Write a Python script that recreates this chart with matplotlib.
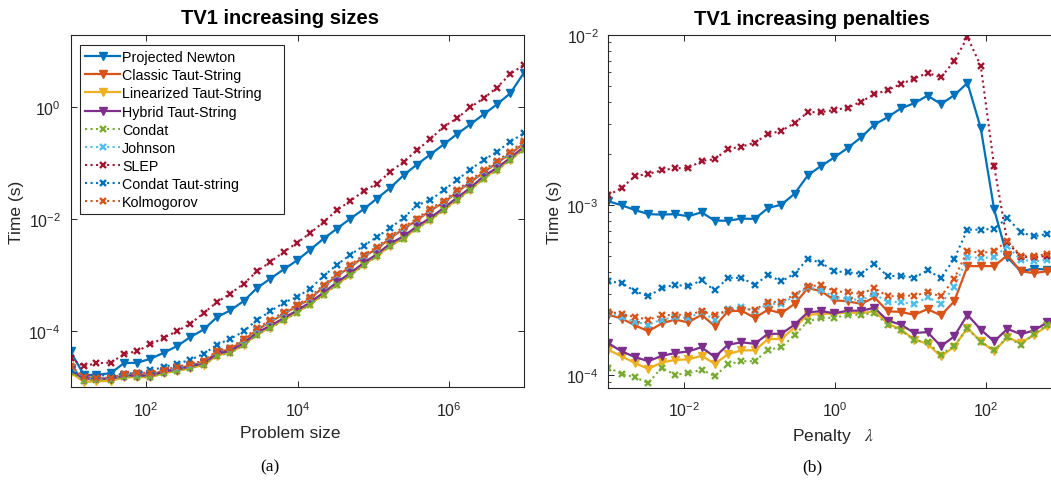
import matplotlib
matplotlib.use("Agg")
import matplotlib.pyplot as plt
from matplotlib.ticker import FixedLocator, LogLocator, NullLocator, LogFormatterSciNotation, NullFormatter

plt.rcParams['font.family'] = ['Liberation Sans', 'DejaVu Sans']
plt.rcParams['mathtext.fontset'] = 'stix'

# problem sizes (10 * 1.5^k) and penalties (1e-3 * 1.5^k)
sizes = [10, 15, 22, 34, 51, 76, 114, 171, 256, 384, 577, 865, 1297, 1946, 2919,
         4379, 6568, 9853, 14779, 22168, 33253, 49879, 74818, 112227, 168341,
         252512, 378768, 568151, 852227, 1278341, 1917511, 2876267, 4314400,
         6471600, 9707400]
penalties = [0.001, 0.0015, 0.00225, 0.00338, 0.00506, 0.00759, 0.0114, 0.0171,
             0.0256, 0.0384, 0.0577, 0.0865, 0.130, 0.195, 0.292, 0.438, 0.657,
             0.985, 1.48, 2.22, 3.33, 4.99, 7.48, 11.2, 16.8, 25.3, 37.9, 56.8,
             85.2, 128, 192, 288, 431, 647, 971]

names = ['Projected Newton', 'Classic Taut-String', 'Linearized Taut-String',
         'Hybrid Taut-String', 'Condat', 'Johnson', 'SLEP', 'Condat Taut-string',
         'Kolmogorov']

# timings (s) vs problem size
size_pn = [4.37e-5, 1.67e-5, 1.67e-5, 1.79e-5, 2.71e-5, 2.74e-5, 3.24e-5, 4.14e-5, 5.46e-5,
           7.91e-5, 1.08e-4, 1.8e-4, 2.37e-4, 3.48e-4, 5.95e-4, 8.73e-4, 1.28e-3, 1.85e-3,
           2.88e-3, 4.54e-3, 6.85e-3, 1.03e-2, 1.52e-2, 2.36e-2, 3.66e-2, 6.15e-2, 9.55e-2,
           0.144, 0.218, 0.333, 0.497, 0.75, 1.13, 1.78, 4.06]
size_classic = [2.2e-5, 1.45e-5, 1.42e-5, 1.4e-5, 1.65e-5, 1.7e-5, 1.7e-5, 1.95e-5, 2.15e-5,
                2.45e-5, 2.8e-5, 4.2e-5, 4.8e-5, 6.9e-5, 1.07e-4, 1.46e-4, 2.05e-4, 2.8e-4,
                3.8e-4, 6.3e-4, 9.9e-4, 1.4e-3, 2.15e-3, 3.0e-3, 4.6e-3, 6.8e-3, 9.6e-3,
                1.44e-2, 1.98e-2, 3.05e-2, 4.6e-2, 6.9e-2, 0.102, 0.148, 0.225]
size_linear = [1.85e-5, 1.25e-5, 1.28e-5, 1.3e-5, 1.5e-5, 1.52e-5, 1.5e-5, 1.78e-5, 1.95e-5,
               2.2e-5, 2.5e-5, 3.7e-5, 4.2e-5, 5.7e-5, 8.8e-5, 1.17e-4, 1.6e-4, 2.2e-4,
               3.05e-4, 4.6e-4, 6.9e-4, 1.02e-3, 1.54e-3, 2.22e-3, 3.4e-3, 4.6e-3, 6.95e-3,
               9.8e-3, 1.48e-2, 2.24e-2, 3.38e-2, 5.45e-2, 7.7e-2, 0.116, 0.18]
size_hybrid = [2.0e-5, 1.42e-5, 1.45e-5, 1.42e-5, 1.6e-5, 1.62e-5, 1.6e-5, 1.9e-5, 2.08e-5,
               2.35e-5, 2.7e-5, 3.95e-5, 4.5e-5, 6.1e-5, 9.5e-5, 1.26e-4, 1.72e-4, 2.36e-4,
               3.3e-4, 4.95e-4, 7.5e-4, 1.1e-3, 1.66e-3, 2.4e-3, 3.7e-3, 5.0e-3, 7.5e-3,
               1.06e-2, 1.6e-2, 2.42e-2, 3.65e-2, 5.9e-2, 8.3e-2, 0.125, 0.195]
size_condat = [1.89e-5, 1.31e-5, 1.36e-5, 1.36e-5, 1.54e-5, 1.54e-5, 1.54e-5, 1.82e-5, 1.97e-5,
               2.23e-5, 2.53e-5, 3.66e-5, 4.14e-5, 5.6e-5, 8.69e-5, 1.15e-4, 1.57e-4, 2.15e-4,
               2.99e-4, 4.52e-4, 6.82e-4, 1.0e-3, 1.51e-3, 2.19e-3, 3.36e-3, 4.54e-3, 6.85e-3,
               9.64e-3, 1.46e-2, 2.2e-2, 3.32e-2, 5.37e-2, 7.56e-2, 0.114, 0.177]
size_johnson = [2.3e-5, 1.5e-5, 1.45e-5, 1.45e-5, 1.7e-5, 1.75e-5, 1.78e-5, 2.0e-5, 2.25e-5,
                2.55e-5, 2.9e-5, 4.4e-5, 4.95e-5, 7.1e-5, 1.1e-4, 1.5e-4, 2.12e-4, 2.9e-4,
                3.95e-4, 6.55e-4, 1.03e-3, 1.45e-3, 2.25e-3, 3.1e-3, 4.8e-3, 7.0e-3, 9.9e-3,
                1.5e-2, 2.02e-2, 3.15e-2, 4.8e-2, 7.2e-2, 0.106, 0.154, 0.238]
size_slep = [3.33e-5, 2.36e-5, 2.71e-5, 2.74e-5, 3.92e-5, 4.44e-5, 5.83e-5, 7.69e-5, 1.01e-4,
             1.37e-4, 2.12e-4, 3.34e-4, 4.71e-4, 7.11e-4, 1.18e-3, 1.74e-3, 2.62e-3, 3.8e-3,
             5.73e-3, 9.02e-3, 1.46e-2, 2.14e-2, 3.18e-2, 4.37e-2, 7.08e-2, 0.107, 0.172,
             0.271, 0.452, 0.636, 1.0, 1.45, 2.25, 3.94, 5.71]
size_condat_ts = [2.08e-5, 1.6e-5, 1.62e-5, 1.65e-5, 1.74e-5, 1.82e-5, 2.0e-5, 2.3e-5, 2.63e-5,
                  3.1e-5, 3.97e-5, 5.75e-5, 7.37e-5, 9.96e-5, 1.61e-4, 2.27e-4, 3.25e-4, 4.11e-4,
                  5.78e-4, 9.75e-4, 1.55e-3, 2.34e-3, 3.36e-3, 4.86e-3, 7.05e-3, 1.06e-2, 1.79e-2,
                  2.2e-2, 3.32e-2, 5.0e-2, 7.78e-2, 0.114, 0.161, 0.243, 0.343]
size_kolmo = [2.43e-5, 1.54e-5, 1.48e-5, 1.48e-5, 1.74e-5, 1.82e-5, 1.82e-5, 2.06e-5, 2.33e-5,
              2.63e-5, 2.98e-5, 4.5e-5, 5.09e-5, 7.37e-5, 1.15e-4, 1.57e-4, 2.21e-4, 2.99e-4,
              4.11e-4, 6.82e-4, 1.07e-3, 1.51e-3, 2.34e-3, 3.22e-3, 5.03e-3, 7.35e-3, 1.03e-2,
              1.56e-2, 2.11e-2, 3.32e-2, 5.0e-2, 7.56e-2, 0.111, 0.161, 0.25]

# timings (s) vs penalty
pen_pn = [1.047e-3, 9.92e-4, 9.3e-4, 8.8e-4, 8.74e-4, 8.8e-4, 8.55e-4, 9.02e-4, 8.05e-4,
          8.05e-4, 8.28e-4, 8.25e-4, 9.56e-4, 1.0e-3, 1.16e-3, 1.49e-3, 1.69e-3, 1.9e-3,
          2.16e-3, 2.49e-3, 2.96e-3, 3.27e-3, 3.69e-3, 3.95e-3, 4.38e-3, 3.91e-3, 4.4e-3,
          5.2e-3, 2.82e-3, 9.4e-4, 4.9e-4, 4.06e-4, 4.2e-4, 4.15e-4, 4.15e-4]
pen_classic = [2.25e-4, 2.14e-4, 1.95e-4, 1.8e-4, 2.0e-4, 2.11e-4, 2.03e-4, 2.25e-4, 1.93e-4,
               2.36e-4, 2.38e-4, 2.16e-4, 2.41e-4, 2.3e-4, 2.61e-4, 3.23e-4, 3.1e-4, 2.74e-4,
               2.7e-4, 2.61e-4, 2.85e-4, 2.36e-4, 2.34e-4, 2.25e-4, 2.43e-4, 2.23e-4, 2.7e-4,
               4.35e-4, 4.35e-4, 4.35e-4, 5.04e-4, 4.06e-4, 3.96e-4, 4.06e-4, 4.05e-4]
pen_linear = [1.4e-4, 1.28e-4, 1.17e-4, 1.08e-4, 1.18e-4, 1.22e-4, 1.23e-4, 1.29e-4, 1.16e-4,
              1.32e-4, 1.39e-4, 1.39e-4, 1.62e-4, 1.62e-4, 1.9e-4, 2.25e-4, 2.28e-4, 2.28e-4,
              2.33e-4, 2.3e-4, 2.36e-4, 2.0e-4, 1.84e-4, 1.61e-4, 1.52e-4, 1.28e-4, 1.46e-4,
              1.88e-4, 1.57e-4, 1.37e-4, 1.66e-4, 1.53e-4, 1.72e-4, 1.93e-4, 1.95e-4]
pen_hybrid = [1.53e-4, 1.37e-4, 1.27e-4, 1.2e-4, 1.29e-4, 1.34e-4, 1.37e-4, 1.45e-4, 1.27e-4,
              1.5e-4, 1.55e-4, 1.52e-4, 1.74e-4, 1.74e-4, 1.97e-4, 2.33e-4, 2.36e-4, 2.3e-4,
              2.38e-4, 2.38e-4, 2.47e-4, 2.08e-4, 1.97e-4, 1.76e-4, 1.78e-4, 1.47e-4, 1.68e-4,
              2.25e-4, 1.84e-4, 1.57e-4, 1.86e-4, 1.73e-4, 1.82e-4, 2.03e-4, 2.05e-4]
pen_condat = [1.1e-4, 1.01e-4, 9.65e-5, 8.93e-5, 1.1e-4, 1.0e-4, 1.02e-4, 1.07e-4, 9.8e-5,
              1.15e-4, 1.2e-4, 1.2e-4, 1.4e-4, 1.45e-4, 1.71e-4, 2.06e-4, 2.16e-4, 2.16e-4,
              2.25e-4, 2.25e-4, 2.3e-4, 1.97e-4, 1.82e-4, 1.6e-4, 1.55e-4, 1.31e-4, 1.48e-4,
              1.87e-4, 1.56e-4, 1.39e-4, 1.66e-4, 1.5e-4, 1.73e-4, 1.97e-4, 2.0e-4]
pen_johnson = [2.3e-4, 2.18e-4, 2.04e-4, 1.97e-4, 2.11e-4, 2.18e-4, 2.16e-4, 2.33e-4, 2.11e-4,
               2.44e-4, 2.49e-4, 2.36e-4, 2.61e-4, 2.61e-4, 2.89e-4, 3.27e-4, 3.16e-4, 2.86e-4,
               2.8e-4, 2.74e-4, 2.98e-4, 2.68e-4, 2.67e-4, 2.61e-4, 2.85e-4, 2.62e-4, 3.27e-4,
               4.91e-4, 4.86e-4, 4.91e-4, 5.69e-4, 4.75e-4, 4.64e-4, 4.75e-4, 4.7e-4]
pen_slep = [1.135e-3, 1.26e-3, 1.47e-3, 1.52e-3, 1.59e-3, 1.64e-3, 1.64e-3, 1.81e-3, 1.85e-3,
            2.13e-3, 2.19e-3, 2.32e-3, 2.6e-3, 2.72e-3, 3.02e-3, 3.5e-3, 3.5e-3, 3.61e-3,
            3.72e-3, 4.04e-3, 4.46e-3, 4.73e-3, 5.13e-3, 5.51e-3, 5.97e-3, 5.61e-3, 6.98e-3,
            9.68e-3, 6.55e-3, 1.69e-3, 6.0e-4, 4.95e-4, 4.9e-4, 5.0e-4, 5.0e-4]
pen_condat_ts = [3.54e-4, 3.46e-4, 3.1e-4, 2.89e-4, 3.23e-4, 3.38e-4, 3.31e-4, 3.59e-4, 3.13e-4,
                 3.71e-4, 3.71e-4, 3.38e-4, 3.85e-4, 3.54e-4, 3.93e-4, 4.81e-4, 4.54e-4, 4.06e-4,
                 4.0e-4, 3.93e-4, 4.48e-4, 3.8e-4, 3.82e-4, 3.71e-4, 4.11e-4, 3.71e-4, 4.8e-4,
                 7.13e-4, 7.13e-4, 7.22e-4, 8.35e-4, 6.88e-4, 6.51e-4, 6.73e-4, 6.7e-4]
pen_kolmo = [2.34e-4, 2.28e-4, 2.18e-4, 2.11e-4, 2.23e-4, 2.25e-4, 2.25e-4, 2.36e-4, 2.23e-4,
             2.41e-4, 2.44e-4, 2.41e-4, 2.68e-4, 2.68e-4, 2.96e-4, 3.31e-4, 3.36e-4, 3.1e-4,
             3.05e-4, 2.99e-4, 3.23e-4, 2.89e-4, 2.91e-4, 2.92e-4, 3.05e-4, 2.89e-4, 3.66e-4,
             5.36e-4, 5.2e-4, 5.32e-4, 6.14e-4, 5.01e-4, 4.97e-4, 5.13e-4, 5.1e-4]

size_series = [size_pn, size_classic, size_linear, size_hybrid, size_condat,
               size_johnson, size_slep, size_condat_ts, size_kolmo]
pen_series = [pen_pn, pen_classic, pen_linear, pen_hybrid, pen_condat,
              pen_johnson, pen_slep, pen_condat_ts, pen_kolmo]

# matlab default colour order
colors = ['#0072BD', '#D95319', '#EDB120', '#7E2F8E', '#77AC30',
          '#4DBEEE', '#A2142F', '#0072BD', '#D95319']
solid = [True, True, True, True, False, False, False, False, False]

axcol = '#262626'

fig = plt.figure(figsize=(10.51, 4.81), dpi=100)
ax1 = fig.add_axes([0.0671, 0.1927, 0.431, 0.7333])
ax2 = fig.add_axes([0.5789, 0.1913, 0.4302, 0.7345])


def draw(ax, x, series):
    for name, y, c, s in zip(names, series, colors, solid):
        if s:
            ax.plot(x, y, '-', color=c, lw=1.6, marker='v', ms=6,
                    mfc=c, mec=c, label=name)
        else:
            ax.plot(x, y, ':', color=c, lw=1.5, marker='x', ms=4.8,
                    mew=1.7, label=name)
    ax.set_xscale('log')
    ax.set_yscale('log')
    for sp in ax.spines.values():
        sp.set_color(axcol)
        sp.set_linewidth(0.8)
    ax.tick_params(which='both', direction='in', top=True, right=True,
                   colors=axcol, labelsize=11.5)
    ax.tick_params(axis='x', pad=9)
    ax.tick_params(axis='y', pad=7)
    ax.tick_params(which='major', length=4.5, width=0.7)
    ax.tick_params(which='minor', length=2.5, width=0.6)
    ax.xaxis.set_major_formatter(LogFormatterSciNotation())
    ax.yaxis.set_major_formatter(LogFormatterSciNotation())
    ax.set_ylabel('Time (s)', fontsize=12.5, color=axcol, labelpad=3)


draw(ax1, sizes, size_series)
ax1.set_xlim(sizes[0], sizes[-1])
ax1.set_ylim(1e-5, 20)
ax1.xaxis.set_major_locator(FixedLocator([1e2, 1e4, 1e6]))
ax1.yaxis.set_major_locator(FixedLocator([1e-4, 1e-2, 1e0]))
ax1.xaxis.set_minor_locator(NullLocator())
ax1.yaxis.set_minor_locator(NullLocator())
ax1.set_xlabel('Problem size', fontsize=12.5, color=axcol)
ax1.xaxis.set_label_coords(0.486, -0.108)
ax1.set_title('TV1 increasing sizes', fontsize=14.5, fontweight='bold', pad=8, x=0.4625)
leg = ax1.legend(loc='upper left', bbox_to_anchor=(0.021, 0.97, 0.45, 0.0), mode='expand',
                 fontsize=10.3, handlelength=2.45, handletextpad=0.15, labelspacing=0.29,
                 borderpad=0.35, borderaxespad=0, fancybox=False, framealpha=1)
leg.get_frame().set_edgecolor(axcol)
leg.get_frame().set_linewidth(0.8)

draw(ax2, penalties, pen_series)
ax2.set_xlim(penalties[0], penalties[-1])
ax2.set_ylim(8.35e-5, 1e-2)
ax2.xaxis.set_major_locator(FixedLocator([1e-2, 1e0, 1e2]))
ax2.yaxis.set_major_locator(FixedLocator([1e-4, 1e-3, 1e-2]))
ax2.xaxis.set_minor_locator(NullLocator())
ax2.yaxis.set_minor_locator(LogLocator(base=10, subs=range(2, 10)))
ax2.yaxis.set_minor_formatter(NullFormatter())
ax2.set_xlabel(r'Penalty   $\lambda$', fontsize=12.5, color=axcol)
ax2.xaxis.set_label_coords(0.497, -0.108)
ax2.set_title('TV1 increasing penalties', fontsize=14.5, fontweight='bold', pad=8, x=0.45)

fig.text(0.257, 0.029, '(a)', family='Liberation Serif', fontsize=12.5, ha='center', va='center')
fig.text(0.773, 0.029, '(b)', family='Liberation Serif', fontsize=12.5, ha='center', va='center')

fig.savefig('out.png', dpi=100)
